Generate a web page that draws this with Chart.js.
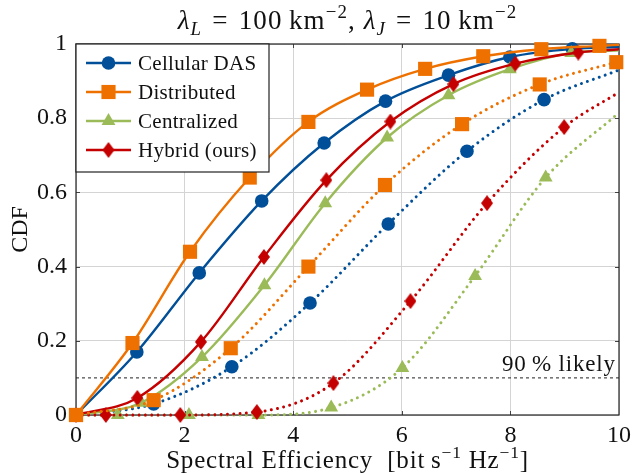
<!DOCTYPE html>
<html><head><meta charset="utf-8">
<script src="https://cdn.jsdelivr.net/npm/chart.js@4/dist/chart.umd.min.js"></script>
<style>html,body{margin:0;padding:0;background:#fff;} canvas{display:block;}</style>
</head><body>
<canvas id="c" width="637" height="473"></canvas>
<script>
const FONT = '"Liberation Serif","Times New Roman",serif';
const xTickStep = 2, xMin = 0, xMax = 10;
const yTickStep = 0.2, yMin = 0, yMax = 1;
const seriesNames = ['Cellular DAS', 'Distributed', 'Centralized', 'Hybrid (ours)'];
const refLevel = 0.1;
const refLabel = '90\u2009% likely';

// Solid curves (x, y, marker flag)
const dasX  = [0, 1.12, 2.27, 3.42, 4.57, 5.70, 6.86, 7.99, 9.14, 10];
const dasY  = [0, 0.17, 0.383, 0.577, 0.733, 0.846, 0.916, 0.965, 0.987, 0.992];
const dasM  = [1, 1, 1, 1, 1, 1, 1, 1, 1, 0];
const disX  = [0, 1.04, 2.10, 3.20, 4.28, 5.36, 6.43, 7.50, 8.57, 9.64, 10];
const disY  = [0, 0.194, 0.44, 0.64, 0.79, 0.877, 0.933, 0.967, 0.986, 0.995, 0.998];
const disM  = [1, 1, 1, 1, 1, 1, 1, 1, 1, 1, 0];
const cenX  = [0, 1.2, 2.32, 3.47, 4.59, 5.73, 6.86, 7.99, 9.12, 10];
const cenY  = [0, 0.033, 0.156, 0.35, 0.571, 0.748, 0.862, 0.932, 0.976, 0.983];
const cenM  = [1, 1, 1, 1, 1, 1, 1, 1, 1, 0];
const hybX  = [0, 1.13, 2.30, 3.46, 4.61, 5.79, 6.95, 8.09, 9.25, 10];
const hybY  = [0, 0.046, 0.197, 0.426, 0.633, 0.791, 0.892, 0.947, 0.977, 0.986];
const hybM  = [1, 1, 1, 1, 1, 1, 1, 1, 1, 0];
// Dotted curves
const dasJX = [0, 1.43, 2.87, 4.31, 5.75, 7.20, 8.62, 10];
const dasJY = [0, 0.03, 0.13, 0.302, 0.515, 0.711, 0.85, 0.93];
const dasJM = [1, 1, 1, 1, 1, 1, 1, 0];
const disJX = [0, 1.43, 2.85, 4.28, 5.69, 7.11, 8.54, 9.95, 10];
const disJY = [0, 0.04, 0.18, 0.40, 0.62, 0.784, 0.891, 0.951, 0.953];
const disJM = [1, 1, 1, 1, 1, 1, 1, 1, 0];
const cenJX = [0, 0.77, 2.08, 3.36, 4.70, 6.01, 7.35, 8.65, 10];
const cenJY = [0, 0, 0, 0, 0.02, 0.127, 0.375, 0.64, 0.815];
const cenJM = [0, 1, 1, 1, 1, 1, 1, 1, 0];
const hybJX = [0, 0.55, 1.92, 3.33, 4.74, 6.16, 7.57, 8.99, 10];
const hybJY = [0, 0, 0, 0.008, 0.086, 0.307, 0.571, 0.776, 0.87];
const hybJM = [0, 1, 1, 1, 1, 1, 1, 1, 0];

const C_BLUE = '#004f98', C_ORANGE = '#ee7100', C_GREEN = '#9bbb59', C_RED = '#c40000';

function diamondCanvas(color, w, h) {
  const cv = document.createElement('canvas');
  cv.width = w; cv.height = h;
  const g = cv.getContext('2d');
  g.fillStyle = color;
  g.beginPath();
  g.moveTo(w / 2, 0); g.lineTo(w, h / 2); g.lineTo(w / 2, h); g.lineTo(0, h / 2);
  g.closePath(); g.fill();
  return cv;
}
const DIAMOND = diamondCanvas(C_RED, 12, 16);

const styles = {
  das: {color: C_BLUE, style: 'circle', r: 6.8},
  dis: {color: C_ORANGE, style: 'rect', r: 10},
  cen: {color: C_GREEN, style: 'triangle', r: 8},
  hyb: {color: C_RED, style: DIAMOND, r: 7}
};

function mk(X, Y, M, st, dotted) {
  return {
    data: X.map((x, i) => ({x: x, y: Y[i]})),
    borderColor: st.color,
    backgroundColor: st.color,
    borderWidth: dotted ? 3 : 2.4,
    borderDash: dotted ? [0.01, 6.3] : [],
    borderCapStyle: dotted ? 'round' : 'butt',
    cubicInterpolationMode: 'monotone',
    pointStyle: (c) => M[c.dataIndex] ? st.style : false,
    pointRadius: M.map(m => m ? st.r : 0),
    pointBorderWidth: 0,
    pointBackgroundColor: st.color,
    pointBorderColor: st.color,
    clip: false,
    fill: false
  };
}

const drawOrder = [
  mk(dasX, dasY, dasM, styles.das, false),
  mk(dasJX, dasJY, dasJM, styles.das, true),
  mk(cenX, cenY, cenM, styles.cen, false),
  mk(cenJX, cenJY, cenJM, styles.cen, true),
  mk(hybX, hybY, hybM, styles.hyb, false),
  mk(hybJX, hybJY, hybJM, styles.hyb, true),
  mk(disX, disY, disM, styles.dis, false),
  mk(disJX, disJY, disJM, styles.dis, true)
];
const refDataset = {
  data: [{x: xMin, y: refLevel}, {x: xMax, y: refLevel}],
  borderColor: '#222', borderWidth: 1, borderDash: [3, 3], pointRadius: 0, fill: false
};
const all = [refDataset].concat(drawOrder);
all.forEach((d, i) => { d.order = all.length - i; });

function drawRich(ctx, segs, x, y, size, align, ls) {
  ctx.letterSpacing = (ls || 0) + 'px';
  const parts = segs.map(s => {
    const sz = size * (s.s || 1);
    const f = (s.it ? 'italic ' : '') + sz + 'px ' + FONT;
    ctx.font = f;
    return {t: s.t, f: f, w: ctx.measureText(s.t).width, dy: (s.dy || 0) * size};
  });
  const tw = parts.reduce((a, p) => a + p.w, 0);
  let cx = align === 'center' ? x - tw / 2 : (align === 'right' ? x - tw : x);
  ctx.textAlign = 'left';
  ctx.textBaseline = 'alphabetic';
  parts.forEach(p => { ctx.font = p.f; ctx.fillText(p.t, cx, y + p.dy); cx += p.w; });
  ctx.letterSpacing = '0px';
}
const SUP = {s: 0.7, dy: -0.4};
const SUB = {s: 0.7, dy: 0.22};
const titleSegs = [
  {t: 'λ', it: 1}, Object.assign({t: 'L', it: 1}, SUB), {t: '\u2004=\u2004100\u2009km'}, Object.assign({t: '−2'}, SUP),
  {t: ', '}, {t: 'λ', it: 1}, Object.assign({t: 'J', it: 1}, SUB), {t: '\u2004=\u200410\u2009km'}, Object.assign({t: '−2'}, SUP)
];
const xLabelSegs = [
  {t: 'Spectral Efficiency  [bit\u2009s'}, Object.assign({t: '−1'}, SUP), {t: ' Hz'}, Object.assign({t: '−1'}, SUP), {t: ']'}
];

function drawMarker(ctx, st, x, y) {
  ctx.fillStyle = st.color;
  if (st.style === 'circle') {
    ctx.beginPath(); ctx.arc(x, y, st.r, 0, Math.PI * 2); ctx.fill();
  } else if (st.style === 'rect') {
    const s = st.r * Math.SQRT1_2;
    ctx.fillRect(x - s, y - s, 2 * s, 2 * s);
  } else if (st.style === 'triangle') {
    ctx.beginPath();
    for (let k = 0; k < 3; k++) {
      const a = k * 2 * Math.PI / 3;
      const px = x + Math.sin(a) * st.r, py = y - Math.cos(a) * st.r;
      k ? ctx.lineTo(px, py) : ctx.moveTo(px, py);
    }
    ctx.closePath(); ctx.fill();
  } else {
    ctx.drawImage(st.style, x - st.style.width / 2, y - st.style.height / 2);
  }
}

const deco = {
  id: 'deco',
  beforeDatasetsDraw(chart) {
    const ctx = chart.ctx, a = chart.chartArea, xs = chart.scales.x, ys = chart.scales.y;
    ctx.save();
    ctx.strokeStyle = '#444'; ctx.lineWidth = 1;
    for (let v = xMin + xTickStep; v < xMax - 1e-9; v += xTickStep) {
      const px = Math.round(xs.getPixelForValue(v)) + 0.5;
      ctx.beginPath(); ctx.moveTo(px, a.bottom); ctx.lineTo(px, a.bottom - 4);
      ctx.moveTo(px, a.top); ctx.lineTo(px, a.top + 4); ctx.stroke();
    }
    for (let v = yMin + yTickStep; v < yMax - 1e-9; v += yTickStep) {
      const py = Math.round(ys.getPixelForValue(v)) + 0.5;
      ctx.beginPath(); ctx.moveTo(a.left, py); ctx.lineTo(a.left + 4, py);
      ctx.moveTo(a.right, py); ctx.lineTo(a.right - 4, py); ctx.stroke();
    }
    ctx.strokeStyle = '#222'; ctx.lineWidth = 1.2;
    ctx.strokeRect(a.left, a.top, a.right - a.left, a.bottom - a.top);
    ctx.restore();
  },
  afterDraw(chart) {
    const ctx = chart.ctx, a = chart.chartArea, xs = chart.scales.x, ys = chart.scales.y;
    ctx.save();
    ctx.fillStyle = '#111';
    drawRich(ctx, titleSegs, (a.left + a.right) / 2, 29, 27, 'center', 1.1);
    drawRich(ctx, xLabelSegs, (a.left + a.right) / 2, 468, 25, 'center', 0.8);
    ctx.save();
    ctx.translate(27, (a.top + a.bottom) / 2);
    ctx.rotate(-Math.PI / 2);
    ctx.font = '24px ' + FONT; ctx.textAlign = 'center'; ctx.textBaseline = 'alphabetic';
    ctx.fillText('CDF', 0, 0);
    ctx.restore();
    drawRich(ctx, [{t: refLabel}], xs.getPixelForValue(9.94), ys.getPixelForValue(refLevel) - 7, 23, 'right', 0.8);
    // legend
    const lx = a.left, ly = a.top, lw = 193, lh = 128;
    ctx.fillStyle = '#fff';
    ctx.fillRect(lx, ly, lw, lh);
    ctx.strokeStyle = '#222'; ctx.lineWidth = 1.2;
    ctx.strokeRect(lx, ly, lw, lh);
    const legendStyles = [styles.das, styles.dis, styles.cen, styles.hyb];
    legendStyles.forEach((st, i) => {
      const yc = 63 + i * 29;
      ctx.strokeStyle = st.color; ctx.lineWidth = 2.4;
      ctx.beginPath(); ctx.moveTo(86, yc); ctx.lineTo(131, yc); ctx.stroke();
      drawMarker(ctx, st, 108.5, yc);
      ctx.fillStyle = '#111';
      ctx.letterSpacing = '0.3px';
      ctx.font = '21px ' + FONT; ctx.textAlign = 'left'; ctx.textBaseline = 'alphabetic';
      ctx.fillText(seriesNames[i], 138, yc + 7);
      ctx.letterSpacing = '0px';
    });
    ctx.restore();
  }
};

new Chart(document.getElementById('c'), {
  type: 'line',
  data: {datasets: all},
  options: {
    responsive: false, animation: false, devicePixelRatio: 1,
    layout: {padding: {left: 0, top: 44, right: 15, bottom: 0}},
    plugins: {legend: {display: false}, tooltip: {enabled: false}, title: {display: false}},
    scales: {
      x: {
        type: 'linear', min: xMin, max: xMax,
        ticks: {stepSize: xTickStep, color: '#111', font: {family: FONT, size: 24}, padding: 6, maxRotation: 0},
        grid: {color: '#d4d4d4', lineWidth: 1, drawTicks: false},
        border: {display: false},
        afterFit(s) { s.height = 58; }
      },
      y: {
        type: 'linear', min: yMin, max: yMax,
        ticks: {stepSize: yTickStep, color: '#111', font: {family: FONT, size: 24}, padding: 9,
          callback: (v) => (Math.abs(v) < 1e-9 ? '0' : (Math.abs(v - 1) < 1e-9 ? '1' : v.toFixed(1)))},
        grid: {color: '#d4d4d4', lineWidth: 1, drawTicks: false},
        border: {display: false},
        afterFit(s) { s.width = 76; }
      }
    }
  },
  plugins: [deco]
});
</script>
</body></html>
